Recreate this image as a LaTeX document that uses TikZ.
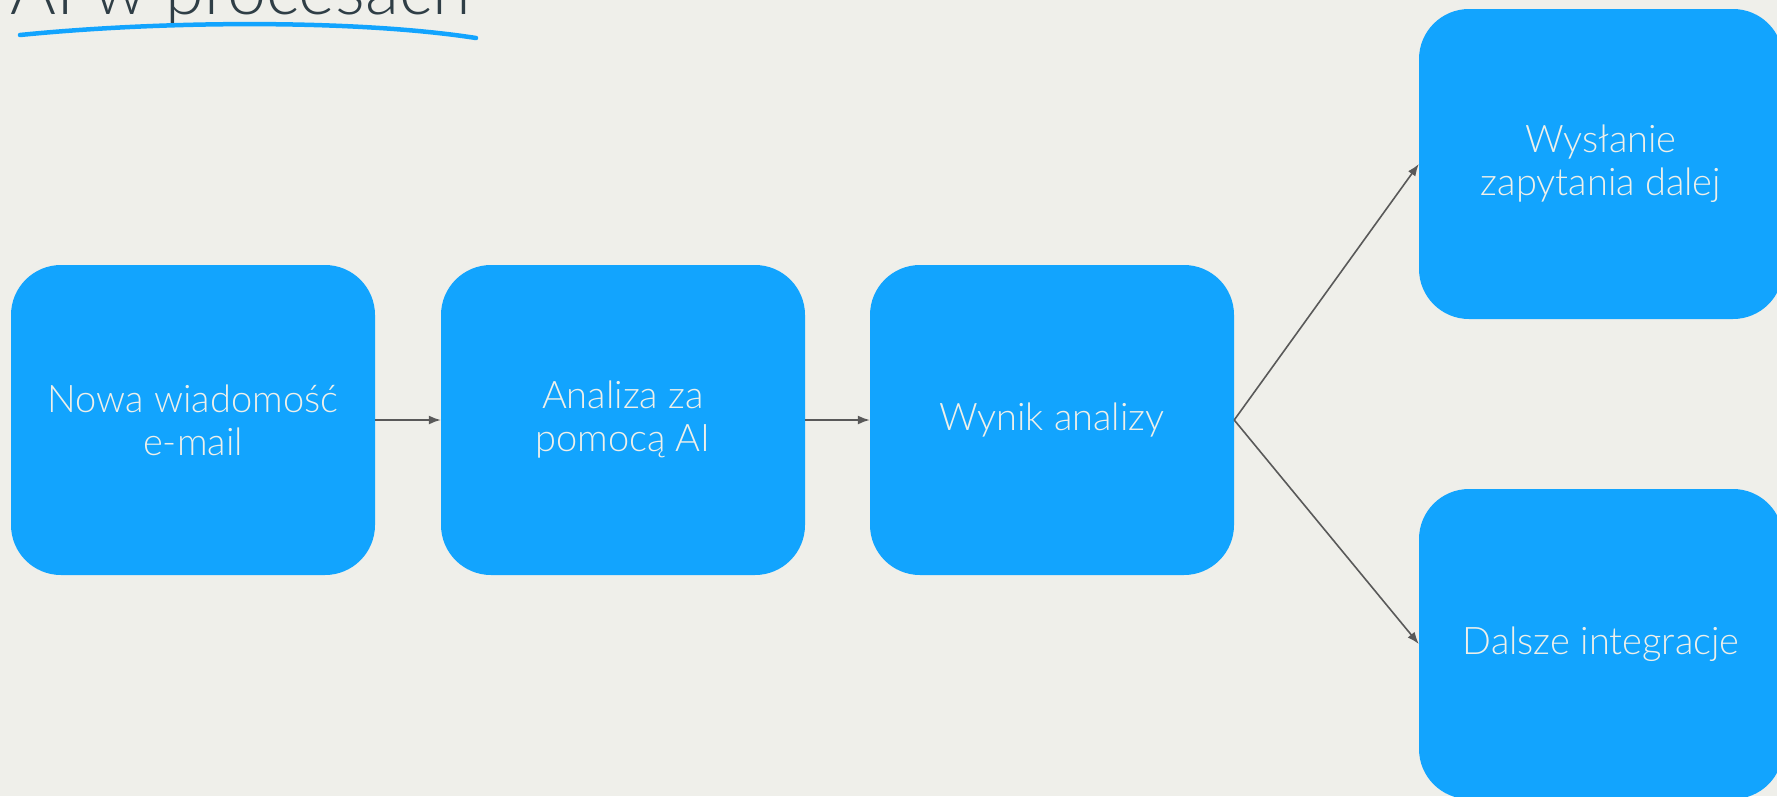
\documentclass[tikz,border=0pt]{standalone}
\usepackage{fontspec}
\setmainfont{Lato Light}
\usetikzlibrary{arrows.meta}
\definecolor{bgcol}{HTML}{EFEFEA}
\definecolor{boxblue}{HTML}{12A4FE}
\definecolor{boxtext}{HTML}{EEF0EA}
\definecolor{titlecol}{HTML}{2F3E46}
\definecolor{arrowgray}{HTML}{595959}
\tikzset{
  procbox/.style={fill=boxblue, rounded corners=50pt, minimum width=364pt, minimum height=310pt,
    align=center, text=boxtext, font=\fontsize{38}{43}\selectfont, inner sep=0pt},
  conn/.style={draw=arrowgray, line width=1.6pt, -{Latex[length=12pt,width=9pt]}},
}
\begin{document}
\begin{tikzpicture}[x=1pt,y=-1pt]
\useasboundingbox (0,0) rectangle (1777,796);
\clip (0,0) rectangle (1777,796);
\fill[bgcol] (0,0) rectangle (1777,796);
\node[anchor=base west, text=titlecol, font=\fontsize{70}{80}\selectfont, inner sep=0pt] (title) at (10,14) {AI w procesach};
\coordinate (ul1) at (20,35);
\coordinate (ul2) at (476,38);
\draw[boxblue, line width=4.5pt, line cap=round] (ul1) .. controls (170,20) and (360,20) .. (ul2);

\node[procbox] (mail) at (193,420) {Nowa wiadomość\\e-mail};
\node[procbox] (ai) at (623,420) {Analiza za\\pomocą AI};
\node[procbox] (wynik) at (1052,420) {Wynik analizy};
\node[procbox] (dalej) at (1601,164) {Wysłanie\\zapytania dalej};
\node[procbox] (integr) at (1601,644) {Dalsze integracje};

\draw[conn] (mail) -- (ai);
\draw[conn] (ai) -- (wynik);
\draw[conn] (wynik.east) -- (dalej.west);
\draw[conn] (wynik.east) -- (integr.west);
\end{tikzpicture}
\end{document}
